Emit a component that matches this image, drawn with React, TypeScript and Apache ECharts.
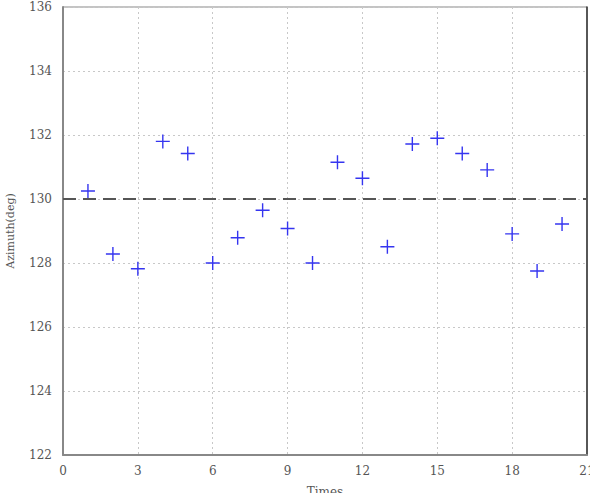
import React, { useEffect, useRef } from "react";
import * as echarts from "echarts";

const times = [1, 2, 3, 4, 5, 6, 7, 8, 9, 10, 11, 12, 13, 14, 15, 16, 17, 18, 19, 20];
const azimuth = [130.25, 128.28, 127.82, 131.8, 131.42, 128.0, 128.79, 129.65, 129.08, 128.0, 131.15, 130.65, 128.51, 131.72, 131.9, 131.42, 130.91, 128.91, 127.75, 129.22];
const refX = [0, 21];
const refY = [130, 130];

const FONT = "DejaVu Serif";
const PLUS = "path://M0,6.3 H14 V7.7 H0 Z M6.3,0 H7.7 V14 H6.3 Z";

export default function App() {
  const ref = useRef<HTMLDivElement>(null);
  useEffect(() => {
    const chart = echarts.init(ref.current!, null, { renderer: "svg" });
    chart.setOption({
      animation: false,
      backgroundColor: "#ffffff",
      textStyle: { fontFamily: FONT },
      grid: {
        left: 63,
        right: 3,
        top: 7,
        bottom: 38,
        containLabel: false,
        outerBoundsMode: "none",
        show: true,
        borderColor: "#888",
        borderWidth: 1,
      },
      xAxis: [
        {
          type: "value",
          min: 0,
          max: 21,
          interval: 3,
          name: "Times",
          nameLocation: "middle",
          nameGap: 31,
          nameTextStyle: { fontFamily: FONT, fontSize: 12, color: "#555", verticalAlign: "top" },
          axisLine: { show: true, lineStyle: { color: "#888", width: 2 } },
          axisTick: { show: false },
          axisLabel: { fontFamily: FONT, fontSize: 12, color: "#555", margin: 10 },
          splitLine: { show: true, lineStyle: { type: [2, 3], color: "#c8c8c8", width: 1 } },
        },
      ],
      yAxis: [
        {
          type: "value",
          min: 122,
          max: 136,
          interval: 2,
          name: "Azimuth(deg)",
          nameLocation: "middle",
          nameGap: 47,
          nameRotate: 90,
          nameTextStyle: { fontFamily: FONT, fontSize: 11, color: "#555" },
          axisLine: { show: true, lineStyle: { color: "#888", width: 2 } },
          axisTick: { show: false },
          axisLabel: { fontFamily: FONT, fontSize: 12, color: "#555", margin: 11 },
          splitLine: { show: true, lineStyle: { type: [2, 3], color: "#c8c8c8", width: 1 } },
        },
        {
          type: "value",
          min: 122,
          max: 136,
          interval: 2,
          position: "right",
          axisLine: { show: true, lineStyle: { color: "#333", width: 1.5 } },
          axisTick: { show: false },
          axisLabel: { show: false },
          splitLine: { show: false },
        },
      ],
      series: [
        {
          type: "line",
          data: refX.map((x, i) => [x, refY[i]]),
          symbol: "none",
          lineStyle: { color: "#555", width: 2.2, type: [13, 7] },
          silent: true,
          z: 2,
        },
        {
          type: "scatter",
          data: times.map((t, i) => [t, azimuth[i]]),
          symbol: PLUS,
          symbolSize: 14,
          itemStyle: { color: "#3535f0", opacity: 1 },
          z: 3,
        },
      ],
    });
    return () => chart.dispose();
  }, []);
  return (
    <div style={{ position: "absolute", left: 0, top: 0, width: 590, height: 493 }}>
      <div ref={ref} style={{ width: 590, height: 493 }} />
    </div>
  );
}
